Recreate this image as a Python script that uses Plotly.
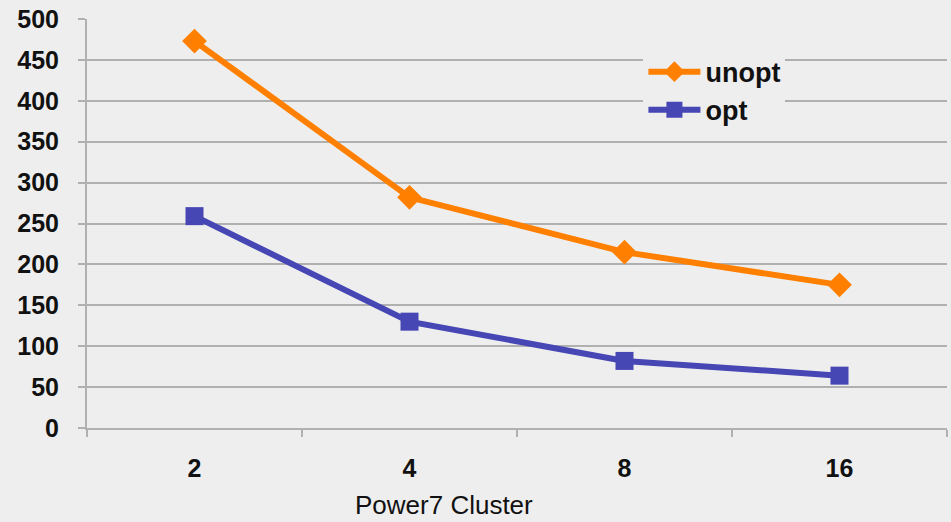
import plotly.graph_objects as go

categories = ["2", "4", "8", "16"]
unopt = [473, 282, 215, 175]
opt = [259, 130, 82, 64]
y_ticks = [0, 50, 100, 150, 200, 250, 300, 350, 400, 450, 500]
x_title = "Power7 Cluster"

BG = "#eeeeee"
GRID = "#b0b0b0"

fig = go.Figure()
fig.add_trace(go.Scatter(
    x=categories, y=unopt, name="unopt", mode="lines+markers",
    line=dict(color="#ff8000", width=6),
    marker=dict(symbol="diamond", size=19, color="#ff8000"),
))
fig.add_trace(go.Scatter(
    x=categories, y=opt, name="opt", mode="lines+markers",
    line=dict(color="#4646b4", width=6),
    marker=dict(symbol="square", size=18, color="#4646b4"),
))

fig.update_layout(
    width=951, height=522,
    margin=dict(l=87, r=4, t=19, b=94),
    paper_bgcolor=BG, plot_bgcolor=BG,
    font=dict(family="Liberation Sans, Arial, sans-serif", color="#111111"),
    showlegend=True,
    legend=dict(
        x=0.647, y=0.93, xanchor="left", yanchor="top",
        bgcolor=BG, borderwidth=0,
        font=dict(size=27, family="Liberation Sans, Arial, sans-serif", weight="bold"),
        itemwidth=52, tracegroupgap=0,
    ),
    xaxis=dict(
        type="category", range=[-0.5, 3.5],
        showgrid=False, showline=True, linecolor=GRID, linewidth=2,
        ticks="outside", tickson="boundaries", ticklen=7, tickcolor=GRID, tickwidth=2,
        tickfont=dict(size=25, weight="bold"),
        ticklabelstandoff=17,
        zeroline=False,
    ),
    yaxis=dict(
        range=[0, 500], tickvals=y_ticks,
        showgrid=True, gridcolor=GRID, gridwidth=2,
        showline=True, linecolor=GRID, linewidth=2,
        ticks="outside", ticklen=7, tickcolor=GRID, tickwidth=2,
        tickfont=dict(size=25, weight="bold"),
        ticklabelstandoff=14,
        zeroline=False,
    ),
    annotations=[dict(
        text=x_title, xref="paper", yref="paper",
        x=(444 - 87) / 860, y=-77 / 409, xanchor="center", yanchor="middle",
        showarrow=False, font=dict(size=26),
    )],
)

fig.write_html("out.html")
